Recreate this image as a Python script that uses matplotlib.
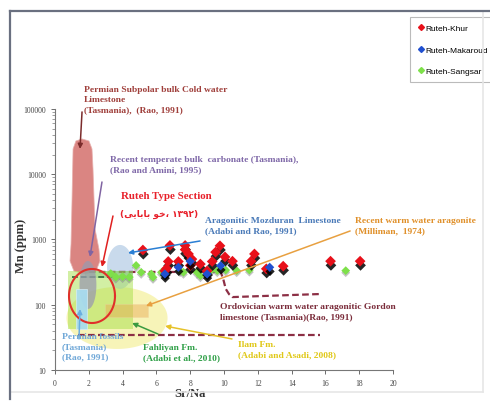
import numpy as np
import matplotlib
matplotlib.use("Agg")
import matplotlib.pyplot as plt
import matplotlib.patheffects as pe
from matplotlib.patches import Rectangle, Polygon
from matplotlib.lines import Line2D

plt.rcParams['font.family'] = ['Liberation Serif', 'DejaVu Sans']

# --- sample data (Sr/Na vs Mn ppm) ---
khur_srna = [5.2, 6.8, 7.7, 6.6, 6.7, 7.3, 7.7, 7.9, 8.1, 8.6, 9.3, 9.5, 9.76,
             10.06, 10.5, 11.6, 11.8, 12.5, 13.5, 16.3, 18.05, 9.0, 6.5, 8.0]
khur_mn = [690, 810, 810, 360, 460, 460, 700, 600, 500, 420, 460, 640, 800,
           540, 465, 465, 600, 355, 390, 465, 465, 330, 330, 400]

makaroud_srna = [6.5, 7.3, 8.0, 9.0, 9.8, 12.7]
makaroud_mn = [296, 375, 463, 296, 396, 375]

sangsar_srna = [3.3, 3.6, 4.0, 4.4, 4.8, 5.1, 5.7, 5.8, 6.3, 7.4, 7.6, 8.4,
                8.6, 9.2, 9.6, 10.1, 10.75, 11.5, 17.2]
sangsar_mn = [300, 265, 270, 265, 400, 314, 296, 263, 314, 333, 314, 314,
              278, 333, 333, 340, 333, 340, 333]

# --- reference fields (Sr/Na, Mn) ---
subpolar_srna = [1.60, 2.01, 2.19, 2.25, 2.37, 2.60, 2.66, 2.43, 1.78, 1.12,
                 0.89, 0.95, 1.01, 1.07, 1.24]
subpolar_mn = [34700, 32300, 24400, 12000, 1450, 715, 468, 329, 296, 329,
               468, 853, 4180, 24400, 32300]

mozduran_ell = (3.85, 2.579, 0.77, 0.337)      # centre x, centre log10(Mn), half widths
ilam_ell = (3.67, 1.797, 2.99, 0.475)
temperate_ell = (1.95, 2.303, 0.50, 0.368)
ruteh_circle = (2.19, 2.134, 1.36, 0.414)

fahliyan_box = (0.77, 4.62, 42.5, 329)         # x0, x1, y0, y1
fahliyan_top_box = (1.78, 4.62, 255, 329)
aragonite_box = (2.96, 5.50, 65, 103)
fossils_box = (1.24, 1.89, 42.5, 174)

ordovician_srna = [2.0, 9.8, 9.95, 10.1, 10.3, 10.5, 15.7]
ordovician_mn = [318, 318, 250, 175, 145, 131, 146]
ilam_line_srna = [1.36, 15.7]
ilam_line_mn = [34.4, 34.4]


def ellipse_pts(cx, cly, rx, rly, n=120):
    t = np.linspace(0, 2 * np.pi, n)
    return cx + rx * np.cos(t), 10 ** (cly + rly * np.sin(t))


fig = plt.figure(figsize=(4.9, 4.06), dpi=100)
ax = fig.add_axes([0.1122, 0.0862, 0.690, 0.643])
ax.set_yscale('log')
ax.set_xlim(0, 20)
ax.set_ylim(10, 100000)

# fields
ex, ey = ellipse_pts(*ilam_ell)
ax.fill(ex, ey, color='#f3ee8a', alpha=0.6, lw=0, zorder=1)

ax.add_patch(Polygon(list(zip(subpolar_srna, subpolar_mn)), closed=True,
                     facecolor='#d4706c', edgecolor='#e8b0ae', lw=0.6,
                     alpha=0.85, zorder=1))

ex, ey = ellipse_pts(*mozduran_ell)
ax.fill(ex, ey, color='#c3d6ea', alpha=0.9, lw=0, zorder=1)

ax.plot(ordovician_srna, ordovician_mn, ls=(0, (3, 1.5)), color='#8c2f45',
        lw=1.6, zorder=2)
ax.plot(ilam_line_srna, ilam_line_mn, ls=(0, (3, 1.5)), color='#8c2f45',
        lw=1.6, zorder=2)

x0, x1, y0, y1 = fahliyan_box
ax.add_patch(Rectangle((x0, y0), x1 - x0, y1 - y0, facecolor='#a6e04a',
                       alpha=0.5, lw=0, zorder=3))
x0, x1, y0, y1 = fahliyan_top_box
ax.add_patch(Rectangle((x0, y0), x1 - x0, y1 - y0, facecolor='#6cc070',
                       alpha=0.35, lw=0, zorder=3))
ax.plot([1.0, 4.0], [262, 262], ls=(0, (3, 1.5)), color='#3f7a4a', lw=1.4,
        zorder=3)

x0, x1, y0, y1 = aragonite_box
ax.add_patch(Rectangle((x0, y0), x1 - x0, y1 - y0, facecolor='#e8a850',
                       alpha=0.45, edgecolor='#f0d0a0', lw=0.5, zorder=4))

ex, ey = ellipse_pts(*temperate_ell)
ax.fill(ex, ey, color='#9a9aae', alpha=0.75, lw=0, zorder=4)

x0, x1, y0, y1 = fossils_box
ax.add_patch(Rectangle((x0, y0), x1 - x0, y1 - y0, facecolor='#a8dcef',
                       alpha=0.95, edgecolor='#d8eef8', lw=0.5, zorder=5))

ex, ey = ellipse_pts(*ruteh_circle)
ax.plot(ex, ey, color='#e0302a', lw=1.5, zorder=8)

# data points
sh_dark = [pe.SimplePatchShadow(offset=(0.3, -3), shadow_rgbFace='k', alpha=0.85),
           pe.Normal()]
sh_light = [pe.SimplePatchShadow(offset=(0, -1.5), shadow_rgbFace='#888', alpha=0.5),
            pe.Normal()]
ax.scatter(sangsar_srna, sangsar_mn, marker='D', s=20, color='#7ee04a',
           lw=0, zorder=6, path_effects=sh_light)
ax.scatter(khur_srna, khur_mn, marker='D', s=30, color='#e8101a',
           lw=0, zorder=7, path_effects=sh_dark)
ax.scatter(makaroud_srna, makaroud_mn, marker='D', s=22, color='#2050d0',
           lw=0, zorder=7, path_effects=sh_dark)

# arrows
arrows = [
    ((1.48, 24400), (1.60, 90000), '#7b2b2b'),
    ((2.07, 540), (2.78, 7600), '#8064a2'),
    ((2.78, 379), (3.43, 2290), '#e02020'),
    ((4.32, 621), (8.58, 948), '#2a7fd4'),
    ((5.38, 95.7), (17.46, 1350), '#e8a040'),
    ((4.56, 52.5), (6.09, 35.6), '#3a9a40'),
    ((6.51, 47.2), (10.47, 29.9), '#e6c229'),
    ((1.48, 86), (1.42, 29.9), '#6aaee0'),
]
for tip, tail, c in arrows:
    ax.annotate('', xy=tip, xytext=tail,
                arrowprops=dict(arrowstyle='-|>', color=c, lw=1.1,
                                mutation_scale=7, shrinkA=0, shrinkB=0),
                zorder=9, annotation_clip=False)

# axes styling
ax.set_xticks(range(0, 21, 2))
ax.set_yticks([10, 100, 1000, 10000, 100000])
ax.set_yticklabels(['10', '100', '1000', '10000', '100000'])
ax.tick_params(labelsize=5.5, colors='#555', labelcolor='#444', length=3,
               width=0.6)
ax.tick_params(axis='y', which='minor', length=2, width=0.5, colors='#777')
for s in ['top', 'right']:
    ax.spines[s].set_visible(False)
for s in ['left', 'bottom']:
    ax.spines[s].set_color('#777')
    ax.spines[s].set_linewidth(0.8)
ax.set_xlabel('Sr/Na', fontsize=9, fontweight='bold', color='#333')
ax.xaxis.set_label_coords(0.40, -0.066)
ax.set_ylabel('Mn (ppm)', fontsize=9, fontweight='bold', color='#333')
ax.yaxis.set_label_coords(-0.083, 0.48)

# annotation texts (figure fraction)
def ftext(px, py, s, color, size=6.8, ls=1.35):
    fig.text(px / 490, 1 - py / 406, s, color=color, fontsize=size,
             fontweight='bold', va='top', ha='left', linespacing=ls)

ftext(84, 86, 'Permian Subpolar bulk Cold water\nLimestone\n(Tasmania),  (Rao, 1991)', '#a0403c')
ftext(110, 156, 'Recent temperate bulk  carbonate (Tasmania),\n(Rao and Amini, 1995)', '#7f68a8')
ftext(121, 192, 'Ruteh Type Section', '#e8202a', size=7.8)
persian = '(' + '\uFBFD\uFBFE\uFE8E\uFE91\uFE8E\uFE91' + ' ' + '\uFEEE\uFEA7' + '\u060C ' + '\u06F1\u06F3\u06F9\u06F2' + ')'
fig.text(120 / 490, 1 - 210 / 406, persian, color='#e8202a', fontsize=6.5,
         va='top', ha='left', family=['DejaVu Sans'], fontweight='bold')
ftext(205, 217, 'Aragonitic Mozduran  Limestone\n(Adabi and Rao, 1991)', '#4a7ab8')
ftext(355, 217, 'Recent warm water aragonite\n(Milliman,  1974)', '#e0902a')
ftext(220, 303, 'Ordovician warm water aragonitic Gordon\nlimestone (Tasmania)(Rao, 1991)', '#7a2c3a')
ftext(238, 341, 'Ilam Fm.\n(Adabi and Asadi, 2008)', '#e0c818')
ftext(143, 344, 'Fahliyan Fm.\n(Adabi et al., 2010)', '#30a048')
ftext(62, 333, 'Permian fossils\n(Tasmania)\n(Rao, 1991)', '#70a8d8')

# legend
handles = [Line2D([], [], marker='D', ls='', color='#e8101a', markersize=3),
           Line2D([], [], marker='D', ls='', color='#2050d0', markersize=3),
           Line2D([], [], marker='D', ls='', color='#7ee04a', markersize=3)]
leg = ax.legend(handles, ['Ruteh-Khur', 'Ruteh-Makaroud', 'Ruteh-Sangsar'],
                loc='upper left', bbox_to_anchor=(410 / 490, 1 - 18 / 406),
                bbox_transform=fig.transFigure, prop={'family': 'Liberation Sans', 'size': 6},
                frameon=True, fancybox=False, labelspacing=1.6, handletextpad=0.1,
                handlelength=0.8, borderpad=0.9, borderaxespad=0)
leg.get_frame().set_edgecolor('#aaaaaa')
leg.get_frame().set_linewidth(0.8)

# outer frame
fig.add_artist(Line2D([483 / 490, 483 / 490], [1 - 12 / 406, 1 - 393 / 406],
                      color='#e6e6e6', lw=1.2, transform=fig.transFigure))
fig.add_artist(Line2D([10 / 490, 483 / 490], [1 - 393 / 406, 1 - 393 / 406],
                      color='#e6e6e6', lw=1.2, transform=fig.transFigure))
fig.add_artist(Line2D([10 / 490, 10 / 490], [1 - 12 / 406, 1 - 400 / 406],
                      color='#6a7080', lw=1.6, transform=fig.transFigure))
fig.add_artist(Line2D([10 / 490, 1.0], [1 - 12 / 406, 1 - 12 / 406],
                      color='#6a7080', lw=1.6, transform=fig.transFigure))

fig.savefig('out.png', dpi=100)
